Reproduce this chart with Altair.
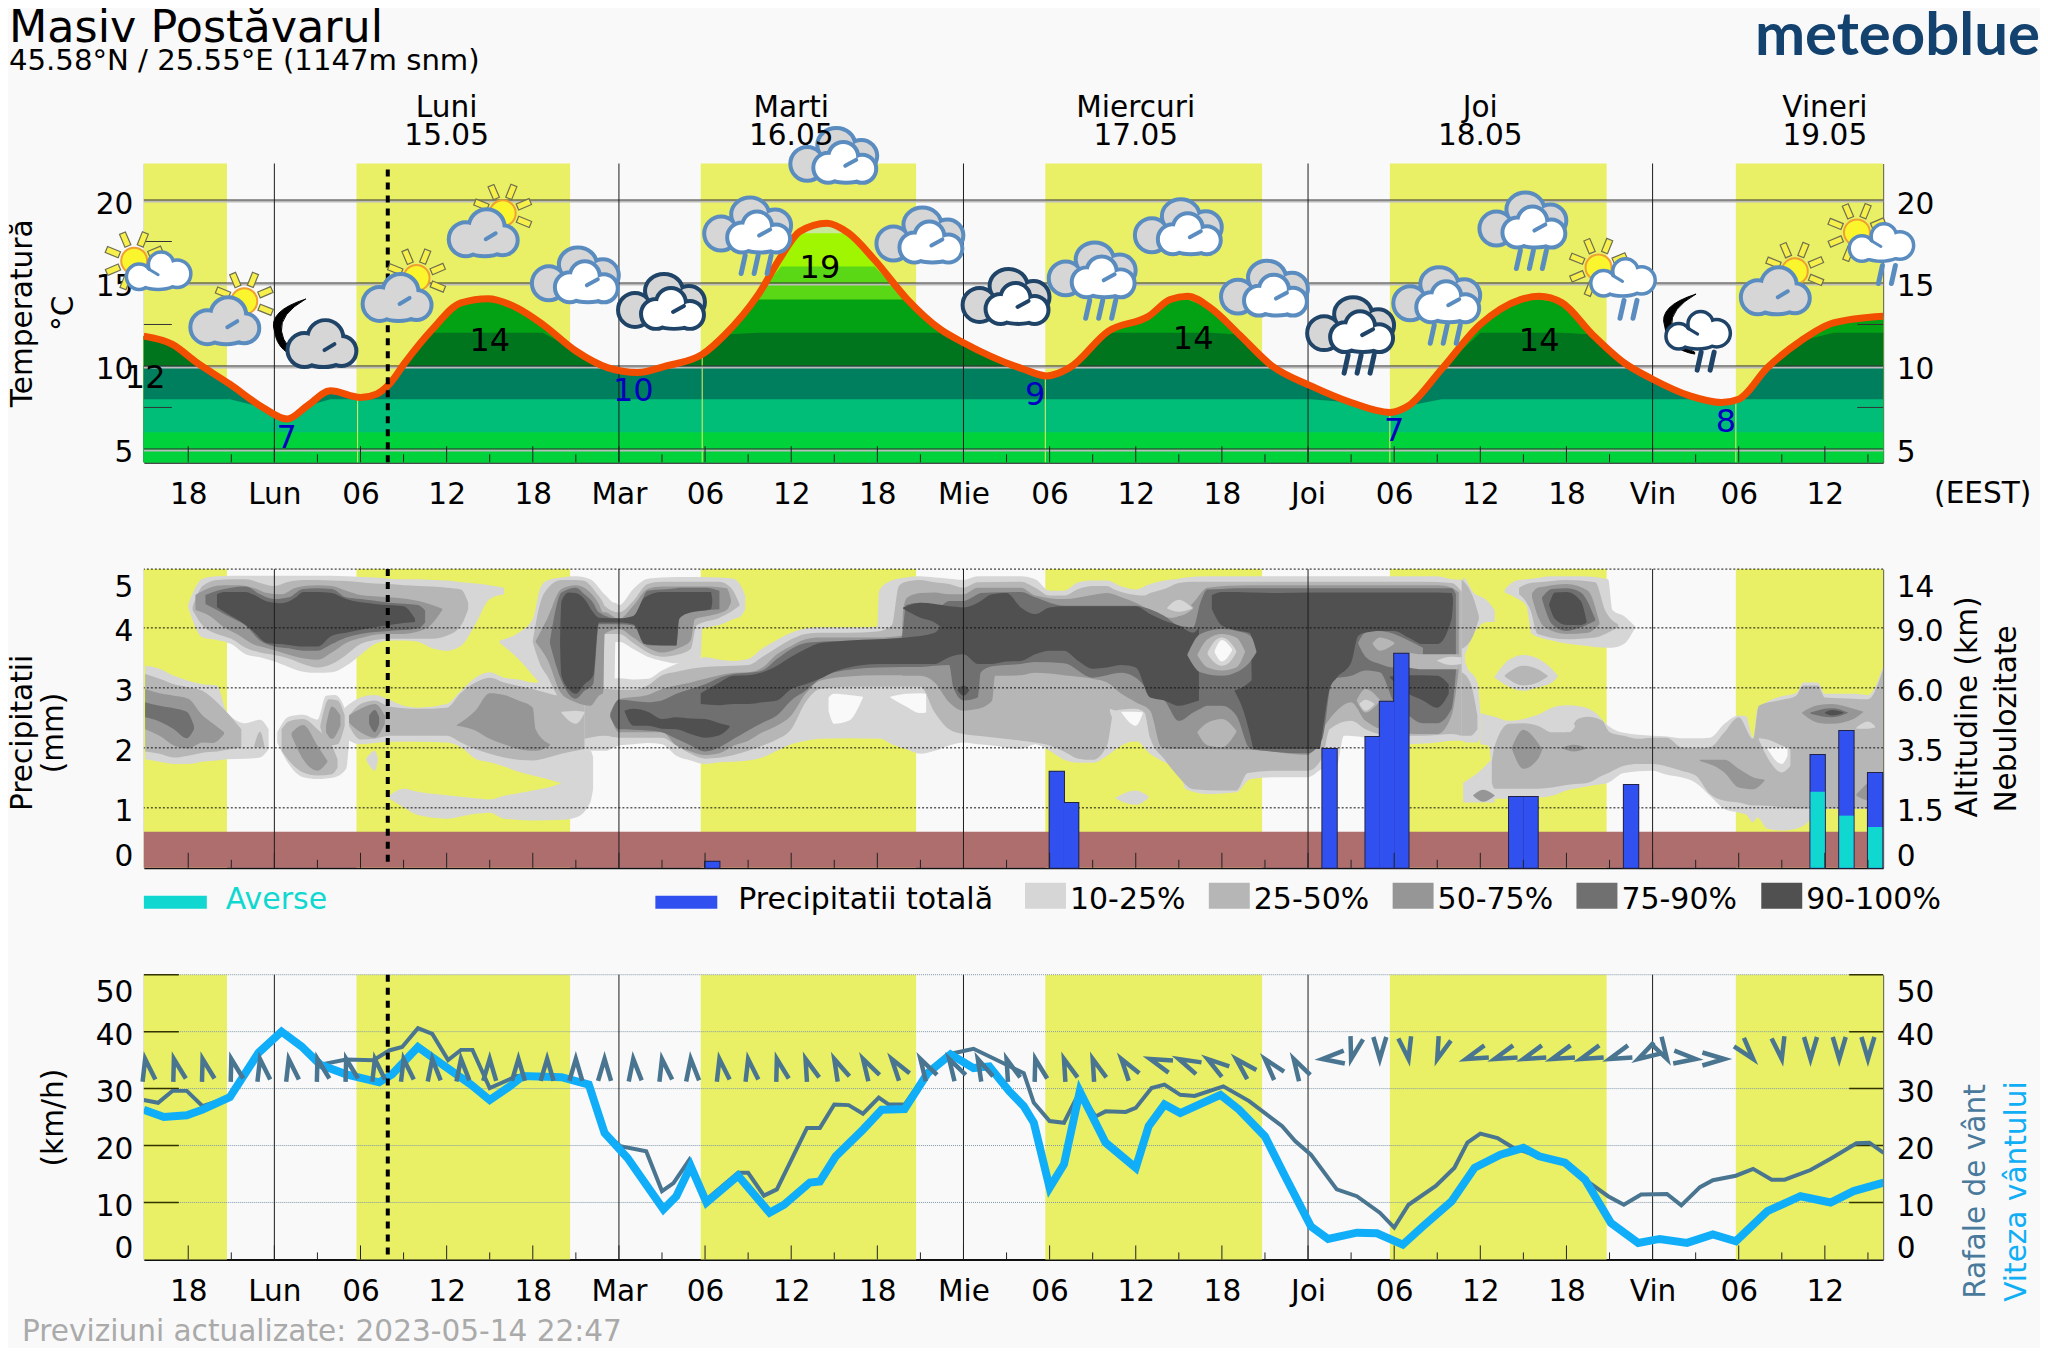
import math
import altair as alt
import pandas as pd

# ---------- time axis (hours since Monday 00:00) ----------
X_DOMAIN = [-9.09, 112.06]
DAY_LINES = [0, 24, 48, 72, 96]
MAJOR_TICKS = list(range(-6, 112, 6))
MINOR_TICKS = list(range(-3, 112, 6))
DAYLIGHT_START = [-9.09, 5.72, 29.7, 53.7, 77.7, 101.8]
DAYLIGHT_END = [-3.3, 20.6, 44.7, 68.8, 92.8, 112.06]
NOW_HOUR = 7.9
DAY_NAMES = ["Luni", "Marti", "Miercuri", "Joi", "Vineri"]
DAY_DATES = ["15.05", "16.05", "17.05", "18.05", "19.05"]
DAY_CENTRES = [12, 36, 60, 84, 108]

# ---------- temperature ----------
TEMP_H = [-9.1, -7.1, -5.4, -3.1, -0.8, 0.9, 2.3, 3.9, 6, 7.1, 8, 9.1, 11, 13, 14.9, 16.9, 18.7, 21, 23.2, 25.3, 27.3,
          29.8, 31.4, 33.7, 35.3, 36.6, 38.5, 40, 41.8, 44.1, 46.4, 48, 52.2, 53.8, 55.4, 58.1, 60.9, 62.4, 63.6, 65.2,
          67.2, 69.5, 72.2, 75, 77.7, 79, 81.3, 84, 86.8, 88.1, 89.7, 91.8, 94, 96, 98.6, 100.8, 102, 104, 106.3,
          108.6, 112.06]
TEMP_V = [11.8, 11.3, 10.2, 8.9, 7.5, 6.8, 7.6, 8.5, 8.1, 8.3, 8.9, 10.2, 12.2, 13.8, 14.05, 13.5, 12.5, 10.9, 9.9, 9.6,
          10, 10.7, 11.9, 14.3, 16.6, 18.1, 18.6, 18, 16.4, 14, 12.2, 11.4, 9.8, 9.4, 9.9, 12.1, 13, 14, 14.2, 13.5,
          11.9, 10, 8.8, 7.8, 7.2, 7.6, 9.8, 12.5, 14, 14.2, 13.8, 11.9, 10.2, 9.2, 8.2, 7.8, 8, 9.9, 11.5, 12.6, 13]
BAND_TOPS = [20, 18, 16, 14, 12, 10, 8, 6]
BAND_COLS = ["#C9E89B", "#9FF600", "#5AD815", "#03A214", "#00751E", "#007F5E", "#00BE78", "#00D23C"]
SUNRISE_H = [5.8, 29.8, 53.7, 77.7, 101.8]
SUNRISE_T = [8.1, 10.7, 9.4, 7.2, 7.9]
TEMP_LABEL_H = [-9, 15, 38, 64, 88.1]
TEMP_LABEL_Y = [8.67, 10.9, 15.3, 11, 10.9]
TEMP_LABEL_T = ["12", "14", "19", "14", "14"]
MIN_LABEL_H = [0.86, 25, 53, 78, 101.1]
MIN_LABEL_Y = [5.06, 7.9, 7.65, 5.5, 6]
MIN_LABEL_T = ["7", "10", "9", "7", "8"]

# ---------- weather symbols: anchor hour and level on the temperature scale ----------
ICON_CLOUD_BLUE_H = [21, 33, 39, 45, 57, 63, 69, 81, 87]
ICON_CLOUD_BLUE_T = [15.4, 18.4, 22.6, 17.8, 15.7, 18.3, 14.6, 14.2, 18.7]
ICON_CLOUD_DARK_H = [27, 51, 75]
ICON_CLOUD_DARK_T = [13.8, 14.1, 12.4]
ICON_SUN_GRAY_H = [-3, 9, 15, 105]
ICON_SUN_GRAY_T = [13.3, 14.7, 18.6, 15.1]
ICON_SUN_SMALL_H = [-9, 93, 111]
ICON_SUN_SMALL_T = [16.1, 15.7, 17.8]
ICON_MOON_GRAY_H = [3]
ICON_MOON_GRAY_T = [12.1]
ICON_MOON_SMALL_H = [99]
ICON_MOON_SMALL_T = [12.7]
RAIN3_BLUE_H = [33, 57, 81, 87]
RAIN3_BLUE_T = [18.4, 15.7, 14.2, 18.7]
RAIN3_DARK_H = [75]
RAIN3_DARK_T = [12.4]
RAIN2_BLUE_H = [93, 111]
RAIN2_BLUE_T = [15.7, 17.8]
RAIN2_DARK_H = [99]
RAIN2_DARK_T = [12.7]

# ---------- precipitation ----------
PREC_H = [30, 54, 55, 73, 76, 77, 78, 86, 87, 94, 107, 109, 111]
PREC_V = [0.1, 1.6, 1.08, 1.98, 2.18, 2.77, 3.57, 1.18, 1.18, 1.38, 1.88, 2.28, 1.58]
SHOWER_H = [107, 109, 111]
SHOWER_V = [1.27, 0.87, 0.68]

# ---------- cloud cover contours: (hour, lower, upper) on the 0-5 axis ----------
L1 = [
 [(-6,4.34,4.40),(-5,3.84,4.82),(-4,3.80,4.86),(-3,3.73,4.87),(-2,3.56,4.87),(-1,3.51,4.87),(0,3.44,4.87),(2,3.27,4.87),(3,3.25,4.87),(4,3.26,4.87),(5,3.37,4.86),(6,3.55,4.85),(7,3.73,4.84),(8,3.79,4.82),(9,3.79,4.81),(10,3.77,4.81),(11,3.66,4.80),(12,3.62,4.79),(13,3.70,4.76),(14,4.06,4.74),(15,4.48,4.71),(16,4.56,4.67)],
 [(-9,1.81,3.37),(-8,1.77,3.32),(-7,1.73,3.20),(-6,1.73,3.12),(-5,1.77,3.06),(-4,1.79,3.04),(-3.3,1.81,2.59),(-2,1.82,2.41),(-1,1.84,2.47),(-0.4,1.98,2.31)],
 [(0.2,2.09,2.26),(1,1.73,2.52),(2,1.51,2.55),(3,1.48,2.47),(3.6,1.49,2.87),(4.2,1.51,2.88),(5,1.65,2.59),(5.2,2.09,2.20)],
 [(4.9,2.17,2.67),(6,2.06,2.84),(7,2.08,2.88),(8,2.10,2.80),(9,2.10,2.70),(10,2.10,2.67),(12,2.09,2.73),(13,2.01,2.95),(14,1.82,3.17),(15,1.76,3.26),(16,1.69,3.17),(17,1.60,3.14),(18,1.54,3.09),(19,1.48,3.09),(20,1.42,3.09),(21,1.51,3.09),(21.7,1.90,3.09)],
 [(6.4,1.80,1.82),(7,1.62,1.95),(7.2,1.78,1.84)],
 [(8,1.15,1.20),(9,1.01,1.32),(10,0.88,1.27),(12,0.82,1.21),(14,0.90,1.16),(15,0.92,1.14),(16,0.82,1.20),(18,0.79,1.29),(20,0.80,1.42),(21,0.84,1.87),(22,1.09,1.96),(22.2,1.31,1.85)],
 [(15.7,3.75,3.79),(17,3.48,3.92),(18,3.21,4.15),(18.5,3.06,4.65),(19,2.76,4.79),(20,2.76,4.84),(21,2.76,4.86),(22,2.76,4.81),(23,2.87,4.56),(23.7,3.15,4.42),(23.75,3.76,4.42),(24,3.77,4.38),(25,3.65,4.65),(26,3.52,4.82),(27,3.45,4.84),(28,3.41,4.85),(29.7,3.51,4.85),(29.8,3.99,4.85),(31,4.05,4.84),(32,4.15,4.82),(32.5,4.20,4.70),(32.8,4.31,4.54)],
 [(21.6,1.95,2.98),(23,1.95,3.15),(24,2.04,3.16),(25,2.06,3.14),(26,2.08,3.15),(27,2.06,3.29),(28,1.87,3.40),(29,1.79,3.48),(30,1.73,3.51),(31,1.76,3.47),(32,1.77,3.45),(33,1.79,3.48),(34,1.84,3.66),(35,1.95,3.80),(36,2.06,3.92),(37,2.12,3.99),(38,2.15,4.01),(40,2.16,4.01),(42,2.15,4.02),(42.1,2.15,4.59),(42.2,2.15,4.65),(43,2.06,4.79),(44,1.98,4.84),(45,1.90,4.86),(46,1.95,4.84),(47,2.04,4.82),(48,2.09,4.80),(49,2.06,4.86),(50,2.04,4.86),(52,1.98,4.86),(53,2.06,4.81),(54,1.95,4.62),(55,1.80,4.62),(56,1.75,4.76),(57,1.75,4.79),(58,1.87,4.79),(59,2.04,4.69),(60,2.12,4.64),(61,1.90,4.73),(62,1.76,4.79),(63,1.65,4.82),(63.5,1.31,4.84),(65,1.23,4.86),(67,1.26,4.86),(68,1.48,4.86),(70,1.51,4.86),(72,1.51,4.86),(73,1.65,4.86),(74,1.70,4.86),(74.5,2.20,4.86),(76,2.17,4.86),(77,2.04,4.86),(79,2.06,4.86),(81,2.09,4.86),(82,2.12,4.81),(82.7,2.12,4.80),(83,2.09,3.40),(83.8,2.09,3.09),(84,2.15,2.62)],
 [(82.7,3.54,3.60),(82.8,3.54,4.84),(83.5,3.90,4.60),(84.5,4.10,4.45),(85,4.10,4.30)],
 [(82.8,1.09,1.42),(84,1.09,1.62),(85,1.09,1.87)],
 [(84,2.06,2.58),(84.6,2.03,2.54),(85,1.15,2.52),(86,1.15,2.45),(87,1.16,2.48),(88,1.17,2.55),(89,1.20,2.67),(90,1.29,2.71),(91,1.34,2.69),(92,1.38,2.59),(92.9,1.42,2.37),(94,1.58,2.25),(96,1.62,2.20),(97,1.55,2.19),(98,1.51,2.16),(99,1.42,2.16),(100,1.20,2.17),(101,0.98,2.40),(102,0.92,2.54),(102.5,0.89,2.53),(103,0.76,2.17),(103.3,0.84,2.65),(104,0.65,2.77),(105,0.62,2.86),(106,0.65,2.91),(106.5,0.70,3.09),(107.5,0.92,3.09),(108,0.98,2.90),(110,0.98,2.90),(111,0.98,2.88),(112.06,0.98,3.36)],
 [(85,3.17,3.19),(86,3.02,3.47),(87,2.95,3.55),(88,3.01,3.49),(89,3.09,3.31),(89.4,3.19,3.20)],
 [(85.7,4.59,4.64),(86.5,4.50,4.79),(87.2,4.37,4.81),(87.6,3.90,4.82),(89,3.79,4.86),(91,3.71,4.86),(92.9,3.67,4.81),(93.2,3.67,4.30),(94,3.73,4.20),(94.8,4.01,4.02)],
 [(58.6,1.15,1.17),(60,1.05,1.29),(60.9,1.17,1.19)],
]
L2 = [
 [(-5.7,4.30,4.35),(-5,4.04,4.70),(-4,3.90,4.80),(-3,3.82,4.81),(-2,3.67,4.81),(-1,3.59,4.75),(0,3.55,4.70),(1,3.49,4.77),(2,3.40,4.80),(3,3.34,4.80),(4,3.40,4.79),(5,3.55,4.78),(6,3.73,4.76),(7,3.80,4.74),(8,3.82,4.73),(9,3.82,4.71),(10,3.82,4.70),(11,3.82,4.69),(12,3.87,4.67),(13,4.04,4.64),(13.5,4.31,4.42)],
 [(-9,1.94,3.23),(-8,1.90,3.15),(-7,1.84,3.06),(-6,1.87,3.01),(-5,1.92,2.95),(-4,1.94,2.76),(-3,1.98,2.51),(-2.3,2.01,2.31)],
 [(-1.4,2.01,2.04),(-1,2.01,2.27),(-0.7,2.01,2.04)],
 [(0.5,1.95,2.31),(1,1.79,2.44),(2,1.59,2.48),(3,1.54,2.31),(4,1.56,2.04),(4.4,1.67,1.81)],
 [(3.2,2.34,2.37),(3.8,2.04,2.81),(4.4,2.06,2.79),(4.9,2.37,2.54)],
 [(5.2,2.37,2.54),(6,2.14,2.73),(7,2.15,2.79),(8,2.20,2.69),(10,2.20,2.65),(12,2.20,2.67),(13,2.09,2.92),(14,1.98,3.09),(15,1.90,3.17),(16,1.84,3.09),(18,1.79,2.98),(20,1.90,2.87),(21.6,1.98,2.98)],
 [(18,3.76,3.78),(18.5,3.40,4.40),(19,3.20,4.65),(20,2.80,4.80),(21,2.76,4.80),(21.5,2.76,4.79),(22.5,2.76,4.56),(22.9,2.76,4.42),(23,3.90,4.37),(24,3.90,4.26),(25,3.75,4.45),(26,3.59,4.73),(27,3.52,4.77),(28,3.55,4.77),(29,3.65,4.77),(29.4,4.04,4.77),(31,4.17,4.77),(31.8,4.27,4.67),(32.4,4.37,4.40)],
 [(21.6,2.15,2.98),(23,2.20,2.98),(24,2.17,2.97),(25,2.17,2.97),(26,2.17,3.04),(27,2.17,3.21),(28,2.04,3.27),(29,1.90,3.32),(30,1.82,3.35),(32,1.88,3.37),(33,1.95,3.38),(34,2.04,3.52),(35,2.14,3.67),(36,2.31,3.81),(37,2.76,3.90),(38,2.98,3.92),(40,3.02,3.92),(42,3.02,3.94),(43,3.02,4.04),(43.5,3.02,4.70),(44,3.02,4.77),(45,3.02,4.80),(46,2.59,4.76),(47,2.31,4.73),(48,2.23,4.67),(49,2.20,4.76),(52,2.12,4.77),(53,2.09,4.67),(54,2.04,4.54),(55,1.94,4.54),(56,1.82,4.65),(57,1.80,4.70),(58,2.04,4.70),(58.5,2.62,4.64),(60,2.65,4.55),(60.6,2.59,4.54),(61,2.17,4.58),(62,1.81,4.65),(63,1.51,4.75),(64,1.31,4.77),(66,1.29,4.77),(67,1.29,4.77),(67.8,1.58,4.77),(70,1.62,4.77),(72,1.62,4.77),(73,1.84,4.77),(73.5,2.31,4.77),(75,2.45,4.77),(76,2.31,4.77),(78,2.20,4.77),(80,2.20,4.77),(82,2.23,4.75),(82.7,2.20,4.60)],
 [(82.7,2.20,3.26),(83.3,2.20,3.09),(83.8,2.31,2.54)],
 [(82.7,3.65,4.81),(83.5,3.87,4.51),(83.9,4.15,4.20)],
 [(84.8,1.42,1.76),(85,1.32,2.03),(86,1.32,2.40),(87,1.32,2.41),(88,1.32,2.37),(89,1.34,2.26),(90,1.38,2.26),(90.8,1.40,2.48),(91.5,1.42,2.52),(92.5,1.54,2.45),(93,1.59,2.26),(94,1.70,2.20),(95,1.73,2.15),(96,1.73,2.17),(97,1.69,2.17),(98,1.62,2.01),(99,1.54,1.99),(100,1.23,2.01),(101,1.12,2.26),(102,1.09,2.51),(103,1.04,2.15),(103.4,1.04,2.70),(105,1.01,2.80),(106,0.99,2.87),(106.5,0.99,3.04),(107.5,0.99,3.04),(108,0.99,2.84),(110,0.99,2.82),(111,0.99,2.81),(112.06,0.99,3.31)],
 [(85.7,3.19,3.21),(87,3.04,3.37),(88,3.09,3.31),(88.7,3.19,3.20)],
 [(86.7,4.56,4.67),(87.5,4.29,4.75),(88,3.90,4.76),(90,3.81,4.80),(92,3.84,4.76),(92.7,3.90,4.29),(93.6,4.01,4.06)],
]
L3 = [
 [(-5.5,4.30,4.55),(-4.5,4.20,4.67),(-3.5,4.01,4.71),(-2.5,3.88,4.71),(-1.5,3.73,4.67),(-0.5,3.66,4.58),(0.5,3.59,4.56),(1.5,3.52,4.67),(3,3.47,4.71),(4,3.59,4.70),(5,3.75,4.62),(6,3.83,4.55),(7.5,3.90,4.52),(9,3.90,4.49),(10.5,3.98,4.42),(11.7,4.30,4.32)],
 [(-9,2.31,2.98),(-8,2.20,2.91),(-7,2.04,2.87),(-6,1.99,2.82),(-5,2.09,2.54),(-4.3,2.08,2.41),(-3.5,2.23,2.26)],
 [(1.2,2.20,2.25),(2,1.81,2.38),(3,1.62,2.04),(3.7,1.77,1.78)],
 [(3.6,2.26,2.37),(4,2.15,2.69),(4.6,2.37,2.54)],
 [(5.2,2.42,2.54),(6,2.26,2.65),(7,2.17,2.73),(7.7,2.40,2.54)],
 [(12.7,2.37,2.38),(14,2.29,2.62),(15,2.15,2.91),(16,2.06,2.88),(17,1.98,2.79),(18,1.95,2.67),(18.2,1.95,2.31),(19.2,2.04,2.06)],
 [(18.2,3.76,3.78),(19,3.48,4.15),(20,2.90,4.65),(21,2.76,4.71),(22,2.70,4.59),(22.6,2.87,4.40),(22.9,2.92,4.26),(23,3.90,4.26),(24,3.98,4.15),(25,3.84,4.37),(26,3.67,4.65),(27,3.59,4.69),(28,3.65,4.69),(29,3.79,4.69),(29.3,4.15,4.69),(30,4.19,4.69),(31.5,4.30,4.66),(31.8,4.42,4.48)],
 [(23.4,2.54,2.59),(24,2.26,2.81),(26,2.26,2.88),(27,2.26,2.98),(28,2.04,3.04),(29,1.94,3.09),(30,1.88,3.15),(31,1.91,3.21),(32,2.04,3.25),(33,2.12,3.26),(34,2.26,3.34),(35,2.37,3.56),(36,2.54,3.70),(37,2.90,3.81),(38,3.12,3.84),(40,3.19,3.84),(42,3.21,3.84),(43.7,3.21,3.87),(43.8,3.20,4.31),(44.1,3.20,4.51),(45,3.20,4.58),(46,3.09,4.59),(47,2.76,4.56),(48,2.62,4.56),(49,2.65,4.67),(50,2.79,4.67),(50.2,3.20,4.67),(52,3.21,4.67),(53,3.25,4.54),(55,3.21,4.48),(57,3.15,4.55),(58,3.09,4.58),(59,2.90,4.51),(60,2.76,4.42),(61,2.62,4.29),(61.8,2.01,4.20),(62.5,1.98,4.17),(63,1.98,4.20),(64,1.98,4.42),(65,1.98,4.67),(68,1.97,4.71),(72,1.88,4.71),(73,2.31,4.71),(74,2.62,4.71),(75,2.76,4.71),(76,2.45,4.71),(78,2.26,4.71),(80,2.23,4.71),(81,2.23,4.71),(82,2.54,4.67),(82.5,3.31,4.59)],
 [(83.5,1.20,1.21),(84.2,1.10,1.30),(85,1.20,1.21)],
 [(86.2,1.98,2.01),(87,1.65,2.30),(88,1.81,2.09),(88.3,1.96,1.98)],
 [(89.7,1.99,2.00),(90.5,1.94,2.05),(91.4,1.99,2.00)],
 [(99.3,1.78,1.80),(101,1.59,1.80),(102,1.34,1.65),(103,1.31,1.51),(103.8,1.45,1.47)],
 [(106.4,2.58,2.59),(107.5,2.42,2.71),(108.5,2.40,2.73),(110,2.48,2.65),(110.7,2.60,2.60)],
 [(110.2,1.20,1.23),(111,1.12,1.42),(112.06,1.10,1.60)],
 [(87.6,4.51,4.58),(88,4.20,4.67),(88.5,4.01,4.69),(90,3.90,4.73),(91.5,3.92,4.62),(92.3,4.06,4.09)],
]
L4 = [
 [(-4.8,4.40,4.55),(-4,4.30,4.62),(-3,4.17,4.67),(-2,4.04,4.69),(-1,3.79,4.56),(0,3.69,4.48),(1,3.66,4.51),(2,3.62,4.65),(3,3.62,4.66),(4,3.73,4.65),(5,3.84,4.51),(6,3.90,4.48),(8,3.95,4.42),(10,3.99,4.38),(10.5,4.09,4.29)],
 [(-9,2.51,2.76),(-8,2.44,2.70),(-7,2.31,2.66),(-6.1,2.16,2.60),(-5.6,2.31,2.37)],
 [(6.6,2.40,2.54),(7,2.26,2.63),(7.3,2.40,2.51)],
 [(19.2,3.73,3.79),(20,3.12,4.59),(21,2.82,4.67),(21.6,2.95,4.56),(22.2,3.06,4.42),(22.6,4.06,4.26),(24,4.06,4.15),(25,4.04,4.15),(26,3.71,4.62),(28,3.70,4.66),(28.2,4.20,4.67),(30,4.29,4.67),(31,4.31,4.62)],
 [(23.4,2.51,2.56),(24,2.31,2.80),(26,2.29,2.76),(27,2.26,2.79),(28,2.15,2.90),(29,2.04,2.98),(30,1.94,3.06),(31,2.01,3.17),(32,2.15,3.23),(33,2.29,3.25),(34,2.42,3.29),(35,2.54,3.48),(36,2.79,3.65),(37,2.95,3.75),(38,3.15,3.77),(39,3.26,3.78),(42,3.34,3.80),(43.7,3.35,3.84),(44,3.35,4.38),(45,3.35,4.42),(46,3.37,4.29),(47,3.38,4.45),(47.3,3.00,4.45),(48,2.79,4.45),(49,2.84,4.56),(49.2,3.26,4.58),(50,3.36,4.59),(52,3.40,4.60),(53,3.43,4.51),(55,3.41,4.37),(57,3.17,4.37),(59,3.25,4.37),(60,3.17,4.37),(61,2.94,4.31),(62,2.79,4.20),(63,2.45,4.04),(64,2.59,4.01),(64.5,2.65,4.42),(65,2.70,4.64),(66,2.70,4.65),(67,2.54,4.66),(68,1.98,4.66),(72,1.91,4.66),(73,2.15,4.66),(73.7,3.15,4.66),(75,3.20,4.66),(76,3.29,4.66),(77,3.26,4.66),(78,2.76,4.66),(79,2.54,4.66),(80,2.41,4.66),(81,2.41,4.66),(82,2.65,4.66),(82.3,3.26,4.56)],
 [(88.3,4.48,4.51),(89,4.06,4.65),(90,3.95,4.66),(91,4.01,4.59),(92,4.12,4.15)],
 [(107,2.57,2.59),(108.5,2.51,2.66),(109.6,2.58,2.59)],
]
L5 = [
 [(-4,4.35,4.56),(-3.5,4.27,4.60),(-2,4.05,4.60),(-1.5,3.95,4.56),(-0.5,3.75,4.44),(0.5,3.73,4.41),(1.5,3.70,4.51),(2,3.69,4.60),(3,3.69,4.60),(4,3.87,4.58),(5,3.92,4.48),(7,4.01,4.40),(9,4.08,4.36),(9.8,4.10,4.15)],
 [(19.9,3.73,3.79),(20,3.20,4.45),(20.5,2.98,4.59),(21,2.90,4.58),(21.6,3.06,4.48),(22.2,3.20,4.26),(22.6,4.09,4.17),(24,4.09,4.16),(25,4.06,4.20),(25.8,3.73,4.51),(27,3.71,4.60),(28,3.71,4.60),(28.2,4.15,4.60),(29,4.26,4.60),(30.4,4.31,4.60),(30.5,4.42,4.48)],
 [(24.4,2.60,2.62),(25,2.37,2.65),(26,2.37,2.60),(27,2.32,2.48),(28,2.31,2.51),(29,2.23,2.49),(30,2.17,2.48),(31,2.21,2.41),(31.7,2.34,2.37)],
 [(29.7,2.73,2.91),(31,2.71,3.09),(32,2.73,3.20),(33,2.73,3.21),(34,2.76,3.26),(35,2.79,3.37),(36,2.98,3.52),(37,3.06,3.65),(38,3.15,3.75),(39,3.27,3.77),(40,3.34,3.79),(42,3.40,3.81),(44,3.40,3.84),(46,3.40,3.92),(46.5,3.45,4.07),(47,3.51,4.36),(48,3.56,4.34),(49,3.40,4.42),(50,3.40,4.56),(51,3.44,4.58),(52,3.45,4.34),(53,3.56,4.23),(54,3.62,4.34),(55,3.62,4.36),(56,3.45,4.36),(57,3.32,4.36),(58,3.34,4.36),(59,3.38,4.36),(60,3.34,4.36),(61,2.84,4.23),(62,2.79,4.12),(63,2.70,4.04),(64,2.76,3.92),(64.4,2.79,4.01)],
 [(43.8,4.32,4.34),(45,4.17,4.42),(46,4.09,4.40),(47,3.87,4.36)],
 [(47.6,2.95,2.97),(48,2.87,3.04),(48.4,2.95,2.97)],
 [(65.3,4.31,4.55),(66,4.04,4.60),(67,3.96,4.60),(68,3.91,4.59),(68.2,1.98,4.59),(70,1.98,4.58),(72,1.98,4.59),(72.8,1.98,4.59),(73,2.26,4.59),(73.5,2.98,4.59),(74,3.17,4.59),(75,3.42,4.59),(75.5,3.87,4.59),(76,3.92,4.59),(78,3.95,4.59),(79,3.84,4.59),(80,3.73,4.59),(81,3.73,4.59),(82,4.15,4.58),(82.1,4.42,4.48)],
 [(66.9,2.94,2.96),(67.5,2.62,3.02),(68.2,1.98,3.15)],
 [(77.7,3.17,3.19),(79,2.90,3.21),(80,2.79,3.21),(81,2.67,3.20),(81.8,2.90,3.06)],
 [(88.8,4.37,4.40),(89.2,4.15,4.59),(90,4.05,4.60),(91,4.05,4.45),(91.4,4.09,4.12)],
 [(108,2.58,2.59),(108.5,2.54,2.63),(109.3,2.58,2.59)],
]
# lighter patches seen inside the darker cloud
PATCH3 = [
 [(63.6,3.54,3.56),(64.5,3.26,3.90),(66,3.20,3.98),(67,3.26,3.95),(68,3.45,3.87),(68.4,3.59,3.62)],
 [(75.5,3.73,3.76),(76,3.52,3.92),(77,3.40,3.95),(78,3.34,3.90),(79,3.37,3.79),(80,3.37,3.67)],
]
PATCH2 = [
 [(62,4.32,4.34),(63,4.20,4.51),(64,4.32,4.34)],
 [(64.3,3.54,3.56),(65,3.34,3.81),(66,3.29,3.90),(67,3.34,3.84),(67.6,3.59,3.62)],
 [(64.3,2.25,2.27),(65,2.04,2.42),(66,2.01,2.48),(67,2.26,2.29)],
 [(76.5,3.73,3.75),(77,3.62,3.84),(78,3.73,3.76)],
 [(79,3.34,3.59),(80,3.31,3.56),(82.5,3.31,3.56)],
 [(75.4,2.78,2.80),(76,2.59,2.98),(77,2.78,2.80)],
]
PATCH1 = [
 [(62.2,4.32,4.34),(63,4.27,4.47),(63.9,4.32,4.34)],
 [(65,3.56,3.59),(65.5,3.42,3.78),(66,3.37,3.84),(66.5,3.42,3.78),(67,3.59,3.62)],
 [(81,3.45,3.46),(82,3.38,3.52),(82.7,3.40,3.51)],
 [(75.6,2.72,2.74),(76,2.62,2.80),(76.6,2.72,2.74)],
 [(58.2,2.60,2.65),(59,2.20,2.60),(60,2.10,2.62),(60.6,2.30,2.58)],
 [(20,2.58,2.60),(21,2.40,2.62),(21.6,2.58,2.60)],
 [(103.4,2.14,2.16),(104,1.84,2.14),(105,1.59,2.04),(105.6,1.70,1.98)],
 [(89.7,2.35,2.37),(90.2,2.26,2.45),(90.6,2.35,2.37)],
 [(110.2,2.32,2.34),(111,2.32,2.44),(111.5,2.34,2.36)],
]
PATCH0 = [
 [(65.5,3.59,3.62),(66,3.44,3.80),(66.7,3.62,3.65)],
 [(38.6,2.62,2.84),(39,2.40,2.90),(40,2.45,2.88),(41,2.84,2.85)],
 [(42.9,2.84,2.85),(44,2.69,2.90),(45,2.58,2.91),(45.4,2.59,2.90)],
 [(59,2.59,2.60),(60,2.37,2.60),(60.5,2.58,2.59)],
 [(104,1.98,1.99),(105,1.73,2.01),(105.4,1.87,2.01)],
]
CLOUD_COLS = ["#D6D6D6", "#B6B6B6", "#969696", "#707070", "#505050"]
CLOUD_LEGEND = ["10-25%", "25-50%", "50-75%", "75-90%", "90-100%"]

# ---------- wind ----------
SPEED_H = [-9.1, -7.7, -6.1, -5, -3.1, -1.1, 0.5, 1.9, 3.2, 5, 7.3, 8.2, 10, 11.9, 13.7, 15, 16.4, 17.3, 20, 21.9, 23, 24.6,
           27.1, 28, 29, 30.1, 32.3, 34.5, 35.5, 37.3, 38, 39.1, 41, 42.3, 43.9, 45.5, 47.1, 48.7, 49.8, 51.2, 52.2, 52.9,
           54, 55, 56.1, 57.9, 60, 60.9, 62, 63.1, 65.9, 67.2, 69, 70.4, 72.2, 73.4, 75.4, 76.8, 78.6, 80, 82, 83.6, 85.4,
           87, 88.1, 89.9, 91.3, 93.1, 95, 96.5, 98.4, 100.2, 101.8, 104, 106.3, 108.4, 110, 112.1]
SPEED_V = [26.3, 25, 25.3, 26.3, 28.5, 36.3, 40, 37.4, 34.2, 32.5, 31.1, 32.5, 37.3, 33.9, 30.7, 28, 30.4, 32.2, 32, 30.7,
           22.2, 17.8, 8.8, 11.1, 16.4, 10, 14.7, 8.2, 9.6, 13.5, 13.7, 18.1, 22.8, 26.3, 26.4, 32.7, 36, 33.6, 33.9, 29.5,
           26.9, 24, 12.6, 16.7, 29.5, 20.5, 16.1, 23.4, 27.2, 25.7, 28.9, 26.3, 21.6, 14.6, 5.8, 3.6, 4.7, 4.6, 2.6, 5.8,
           10.2, 16.1, 18.4, 19.6, 18.1, 17, 14, 6.4, 2.9, 3.6, 2.9, 4.4, 3.2, 8.5, 11.1, 10, 12, 13.5]
GUST_H = [-9.1, -8.1, -7.1, -6.1, -5, -3.1, -1.1, 0.5, 1.9, 3.2, 5, 6.9, 8, 8.9, 10, 11, 12.1, 13, 13.8, 15, 16.9, 20, 21.9,
          23, 24.1, 25.9, 27, 27.8, 28.9, 30.1, 32.3, 33, 34.1, 35, 37.1, 38, 39, 40, 41, 42.1, 42.8, 43.9, 45.5, 46.9,
          48.7, 50.5, 52.2, 52.9, 54, 55, 56.1, 57.2, 57.9, 59.3, 60, 61.1, 62, 63.1, 64.1, 66.1, 67.9, 70.2, 71.1, 72.2,
          74, 75.4, 77, 78, 79, 80.9, 82.2, 83.1, 84, 85.2, 86.3, 88.1, 89.9, 91.3, 92.9, 94, 95.2, 97, 98, 99.3, 100.2,
          101.8, 103, 104.3, 105.2, 107, 108.4, 110.2, 111.1, 112.1]
GUST_V = [28, 27.5, 29.6, 29.6, 26.9, 28.5, 36.3, 40, 37.4, 34.2, 35.1, 35, 36.7, 37.3, 40.6, 39.6, 35, 36.8, 36.8, 30.1,
          32.2, 32, 30.7, 22.2, 19.9, 19, 12, 13.4, 17.5, 10.5, 15.2, 15.2, 11.2, 12.3, 23.1, 23.1, 27.2, 27.1, 25.6, 28.4,
          27.2, 27.2, 33, 36, 37, 34.8, 32.7, 27.5, 24.3, 24, 29.5, 25.1, 26, 25.9, 26.6, 30.1, 30.7, 28.9, 28.7, 30.4, 27.8,
          23.4, 20.8, 18.4, 12.3, 11.1, 8.2, 5.6, 9.6, 12.9, 16.1, 20.5, 22.1, 21.3, 19.6, 18.1, 17, 14, 11.1, 9.6, 11.4,
          11.5, 9.5, 12.7, 13.9, 14.7, 15.9, 14, 14, 15.7, 17.7, 20.4, 20.5, 18.7]
ARROW_H = list(range(-9, 112, 2))
ARROW_DIR = [-10, -15, -15, -15, -10, -10, -15, -15, -10, -10, -5, -5, 0, 0, 0, 0, 0, -5, -10, -5, -10, -10, -15, -20, -25,
             -30, -35, -30, -30, -25, -20, -15, -20, -20, -35, -70, -65, -55, -45, -40, -30, -95, 195, 180, 170, 200,
             250, 250, 250, 250, 250, 250, 240, 150, 95, 90, 140, 170, 180, 180, 180]
ARROW_LEVEL = 35.2

FONT = "DejaVu Sans"
H1, H2, H3 = 299, 299, 285
BG = "#F9F9F9"
YEL = "#E9F066"
DOT = "#111111"
W = 1741
XS = alt.Scale(domain=X_DOMAIN, nice=False, zero=False)
YS1 = alt.Scale(domain=[4.2, 22.2], nice=False, zero=False)
YS2 = alt.Scale(domain=[0, 4.98], nice=False, zero=False)
YS3 = alt.Scale(domain=[0, 50], nice=False, zero=False)
xq = alt.X("h:Q", scale=XS, axis=None)
LABEL_EXPR = ("datum.value%24==0?['Lun','Mar','Mie','Joi','Vin'][datum.value/24]:"
              "((datum.value%24+24)%24==6?'06':((datum.value%24+24)%24==12?'12':'18'))")
TICK_FS = 29.6
AX_FIG = dict(labelFont=FONT, labelFontSize=TICK_FS, labelColor="#000000", ticks=False, title=None, grid=False)


def df(**kw):
    return pd.DataFrame(kw)


def text(s, px, py, size=TICK_FS, color="#000000", angle=0, align="left", font=FONT, weight="normal", ox=143, oy=162):
    return alt.Chart(df(a=[0])).mark_text(text=s, fontSize=size, color=color, angle=angle, align=align, font=font,
                                          fontWeight=weight, baseline="alphabetic").encode(
        x=alt.value(px - ox), y=alt.value(py - oy))


def vrect(height, color=YEL):
    return alt.Chart(df(h=DAYLIGHT_START, h2=DAYLIGHT_END)).mark_rect(color=color).encode(
        x=xq, x2="h2:Q", y=alt.value(0), y2=alt.value(height))


def ticks(height, major, minor):
    return [alt.Chart(df(h=MAJOR_TICKS)).mark_rule(color="#222222", strokeWidth=1).encode(
                x=xq, y=alt.value(height - major), y2=alt.value(height)),
            alt.Chart(df(h=MINOR_TICKS)).mark_rule(color="#222222", strokeWidth=1).encode(
                x=xq, y=alt.value(height - minor), y2=alt.value(height))]


def daylines(height):
    return alt.Chart(df(h=DAY_LINES)).mark_rule(color="#1c1c1c", strokeWidth=1).encode(
        x=xq, y=alt.value(0), y2=alt.value(height))


def nowline(height, top=0):
    return alt.Chart(df(h=[NOW_HOUR])).mark_rule(color="#000000", strokeWidth=4, strokeDash=[7, 6]).encode(
        x=xq, y=alt.value(top), y2=alt.value(height))


def axes(scale, values_l, values_r, fmt_l=None, fmt_r=None, flush=False):
    out = []
    for orient, vals, fmt, pad in (("left", values_l, fmt_l, 11), ("right", values_r, fmt_r, 13)):
        kw = dict(AX_FIG)
        if fmt:
            kw["labelExpr"] = fmt
        if flush:
            kw["labelFlush"] = True
        out.append(alt.Chart(df(h=[0], v=[vals[0]])).mark_rule(opacity=0).encode(
            x=xq,
            y=alt.Y("v:Q", scale=scale, axis=alt.Axis(orient=orient, values=vals, labelPadding=pad, domain=True,
                                                      domainColor="#444444", domainWidth=1, labelOffset=4, **kw))))
    return out


def xaxis():
    return alt.Chart(df(h=MAJOR_TICKS)).mark_tick(opacity=0).encode(
        x=alt.X("h:Q", scale=XS, axis=alt.Axis(orient="bottom", values=MAJOR_TICKS, labelExpr=LABEL_EXPR, labelFont=FONT,
                                               labelFontSize=TICK_FS, labelColor="#000000", ticks=False, title=None,
                                               grid=False, domain=True, domainColor="#111111", domainWidth=2,
                                               labelPadding=18, labelOverlap=False, labelBound=False, labelFlush=False)))


# ---- symbol drawing ----
def f(v):
    return f"{v / 50:.3f}"


def ell(cx, cy, rx, ry=None):
    ry = rx if ry is None else ry
    return (f"M{f(cx - rx)},{f(cy)}A{f(rx)},{f(ry)} 0 1 0 {f(cx + rx)},{f(cy)}"
            f"A{f(rx)},{f(ry)} 0 1 0 {f(cx - rx)},{f(cy)}Z")


def puffs(items, ox=0, oy=0):
    return "".join(ell(c[0] + ox, c[1] + oy, *c[2:]) for c in items)


def line(a, b, ox=0, oy=0):
    return f"M{f(a[0] + ox)},{f(a[1] + oy)}L{f(b[0] + ox)},{f(b[1] + oy)}"


def rays(cx, cy, r0=16, r1=30, w=3.2):
    out = ""
    for i in range(8):
        t = math.radians(22 + i * 45)
        ux, uy = math.cos(t), math.sin(t)
        nx, ny = -uy, ux
        pts = [(cx + ux * r0 + nx * w, cy + uy * r0 + ny * w), (cx + ux * r1 + nx * w, cy + uy * r1 + ny * w),
               (cx + ux * r1 - nx * w, cy + uy * r1 - ny * w), (cx + ux * r0 - nx * w, cy + uy * r0 - ny * w)]
        out += "M" + "L".join(f"{f(p[0])},{f(p[1])}" for p in pts) + "Z"
    return out


def moon(ox, oy):
    p = [(-2, -37), (-40, -25), (-33, -5), (-30, 18), (-3, 23), (-3, 21), (-24, 12), (-26, -5), (-28, -22), (-2, -37)]
    q = [f"{f(a + ox)},{f(b + oy)}" for a, b in p]
    return f"M{q[0]}Q{q[1]} {q[2]}Q{q[3]} {q[4]}L{q[5]}Q{q[6]} {q[7]}Q{q[8]} {q[9]}Z"


SIZE = 10000


def gl(h, t, path, fill="transparent", stroke="transparent", sw=0):
    return alt.Chart(df(h=h, t=t)).mark_point(shape=path, size=SIZE, filled=True, fill=fill, stroke=stroke,
                                              strokeWidth=sw, opacity=1, strokeCap="round").encode(
        x=xq, y=alt.Y("t:Q", scale=YS1, axis=None))


def blob(h, t, path, fill, stroke, sw):
    return [gl(h, t, path, fill=stroke, stroke=stroke, sw=sw), gl(h, t, path, fill=fill)]


BLUE_OUT, DARK_OUT, GRAYF, WHITEF = "#5A8CC0", "#1F4468", "#D6D6D6", "#FFFFFF"
BACK = [(-27, 7, 15), (2, -12, 17, 15), (27, -1, 14), (2, 8, 24, 14)]
FRONT = [(-6, 11, 13), (9, 0, 13), (28, 12, 12), (12, 14, 22, 10)]
HOOK = line((11, 9), (22, 3))
MID = [(-18, 6, 15), (3, -6, 16), (19, 7, 13), (1, 10, 22, 11)]
SMALL = [(-19, 5, 11), (3, -7, 11), (19, 2, 12), (0, 7, 20, 9)]


def cloud3(h, t, outline):
    return (blob(h, t, puffs(BACK), GRAYF, outline, 8) + blob(h, t, puffs(FRONT), WHITEF, outline, 8) +
            [gl(h, t, HOOK, stroke=outline, sw=4)])


def sun(h, t, ox, oy):
    return [gl(h, t, rays(ox, oy), fill="#F7F04C", stroke="#6E6E50", sw=1.2),
            gl(h, t, ell(ox, oy, 13), fill="#FBF52E", stroke="#F0A030", sw=2)]


def midcloud(h, t, ox, oy, outline):
    return (blob(h, t, puffs(MID, ox, oy), GRAYF, outline, 8) +
            [gl(h, t, line((2, 6), (12, 0), ox, oy), stroke=outline, sw=4)])


def smallcloud(h, t, ox, oy, outline):
    return (blob(h, t, puffs(SMALL, ox, oy), WHITEF, outline, 7) +
            [gl(h, t, line((-10, -3), (0, 3), ox, oy), stroke=outline, sw=3)])


def rain(h, t, n, color, ox, oy):
    path = "".join(line((2 + i * 13 - 13 * (n - 1) / 2, -9), (-2 + i * 13 - 13 * (n - 1) / 2, 9), ox, oy) for i in range(n))
    return [gl(h, t, path, stroke=color, sw=5)]


def glyphs():
    out = []
    out += rain(RAIN3_BLUE_H, RAIN3_BLUE_T, 3, BLUE_OUT, 8, 38)
    out += rain(RAIN3_DARK_H, RAIN3_DARK_T, 3, DARK_OUT, 8, 38)
    out += cloud3(ICON_CLOUD_BLUE_H, ICON_CLOUD_BLUE_T, BLUE_OUT)
    out += cloud3(ICON_CLOUD_DARK_H, ICON_CLOUD_DARK_T, DARK_OUT)
    out += sun(ICON_SUN_GRAY_H, ICON_SUN_GRAY_T, 13, -10)
    out += midcloud(ICON_SUN_GRAY_H, ICON_SUN_GRAY_T, -6, 10, BLUE_OUT)
    out += rain(RAIN2_BLUE_H, RAIN2_BLUE_T, 2, BLUE_OUT, 19, 38)
    out += sun(ICON_SUN_SMALL_H, ICON_SUN_SMALL_T, -11, -4)
    out += smallcloud(ICON_SUN_SMALL_H, ICON_SUN_SMALL_T, 13, 7, BLUE_OUT)
    out += [gl(ICON_MOON_GRAY_H, ICON_MOON_GRAY_T, moon(-10, 5), fill="#000000", stroke="#000000", sw=1)]
    out += midcloud(ICON_MOON_GRAY_H, ICON_MOON_GRAY_T, 5, 13, DARK_OUT)
    out += rain(RAIN2_DARK_H, RAIN2_DARK_T, 2, DARK_OUT, 10, 40)
    out += [gl(ICON_MOON_SMALL_H, ICON_MOON_SMALL_T, moon(2, 10), fill="#000000", stroke="#000000", sw=1)]
    out += smallcloud(ICON_MOON_SMALL_H, ICON_MOON_SMALL_T, 2, 10, DARK_OUT)
    return out


# ---- panel 1 ----
temp = df(h=TEMP_H, t=TEMP_V)
yt = alt.Y("t:Q", scale=YS1, axis=None)
p1 = [vrect(H1)]
for top, col in zip(BAND_TOPS, BAND_COLS):
    p1.append(alt.Chart(temp).transform_calculate(c=f"min(datum.t,{top})").mark_area(color=col, opacity=1).encode(
        x=xq, y=alt.Y("c:Q", scale=YS1, axis=None), y2=alt.datum(4.2)))
p1.append(alt.Chart(df(h=SUNRISE_H, t=SUNRISE_T)).mark_rule(color="#E9F066", strokeWidth=1).encode(
    x=xq, y=yt, y2=alt.value(H1)))
GRID1 = [5, 10, 15, 20]
SHORT1 = [7.5, 12.5, 17.5]
p1.append(alt.Chart(df(t=GRID1)).mark_rule(color="#BBBBBB", strokeWidth=2, yOffset=1.5).encode(y=yt))
p1.append(alt.Chart(df(t=GRID1)).mark_rule(color="#333333", strokeWidth=1).encode(y=yt))
p1.append(alt.Chart(df(t=SHORT1)).mark_rule(color="#333333", strokeWidth=1).encode(y=yt, x=alt.value(0), x2=alt.value(28)))
p1.append(alt.Chart(df(t=SHORT1)).mark_rule(color="#333333", strokeWidth=1).encode(y=yt, x=alt.value(W - 26), x2=alt.value(W)))
p1.append(daylines(H1))
p1 += ticks(H1, 16, 8)
p1.append(alt.Chart(temp).mark_line(color="#F24E00", strokeWidth=7, interpolate="monotone").encode(x=xq, y=yt))
p1.append(nowline(H1, 6))
p1 += axes(YS1, GRID1, GRID1)
p1.append(xaxis())
p1 += glyphs()
p1.append(alt.Chart(df(h=TEMP_LABEL_H, t=TEMP_LABEL_Y, s=TEMP_LABEL_T)).mark_text(
    fontSize=32, font=FONT, color="#000000", baseline="alphabetic").encode(x=xq, y=yt, text="s:N"))
p1.append(alt.Chart(df(h=MIN_LABEL_H, t=MIN_LABEL_Y, s=MIN_LABEL_T)).mark_text(
    fontSize=32, font=FONT, color="#0000C0", baseline="alphabetic").encode(x=xq, y=yt, text="s:N"))
for nm, dt, c in zip(DAY_NAMES, DAY_DATES, DAY_CENTRES):
    p1.append(alt.Chart(df(h=[c])).mark_text(text=nm, fontSize=TICK_FS, font=FONT, baseline="alphabetic").encode(x=xq, y=alt.value(115 - 162)))
    p1.append(alt.Chart(df(h=[c])).mark_text(text=dt, fontSize=TICK_FS, font=FONT, baseline="alphabetic").encode(x=xq, y=alt.value(143 - 162)))
p1 += [
    text("Masiv Postăvarul", 8, 40, size=44.5),
    text("45.58°N / 25.55°E (1147m snm)", 8, 68, size=29.2),
    text("meteoblue", 2041, 53, size=60, color="#14426E", align="right", font="Lato", weight="bold"),
    text("Temperatură", 31, 312, angle=270, align="center"),
    text("°C", 72, 312, angle=270, align="center"),
    text("(EEST)", 1935, 502),
    alt.Chart(df(a=[0])).mark_rule(opacity=0).encode(x=alt.value(8 - 143), x2=alt.value(8 - 143 + 1), y=alt.value(8 - 162)),
]
panel1 = alt.layer(*p1).resolve_axis(x="independent", y="independent").properties(width=W, height=H1)


# ---- panel 2 ----
def cloud_layer(blobs, color):
    rows = []
    for i, b in enumerate(blobs):
        for (h, lo, hi) in b:
            rows.append(dict(b=i, h=h, lo=lo, hi=hi))
    return alt.Chart(pd.DataFrame(rows)).mark_area(color=color, opacity=1, interpolate="monotone", clip=True).encode(
        x=xq, y=alt.Y("lo:Q", scale=YS2, axis=None), y2="hi:Q", detail="b:N")


RED_TOP = 0.6
yp = alt.Y("v:Q", scale=YS2, axis=None)
p2 = [vrect(H2)]
p2 += [cloud_layer(L1, CLOUD_COLS[0]), cloud_layer(L2, CLOUD_COLS[1]), cloud_layer(L3, CLOUD_COLS[2]),
       cloud_layer(L4, CLOUD_COLS[3]), cloud_layer(L5, CLOUD_COLS[4]),
       cloud_layer(PATCH3, CLOUD_COLS[2]), cloud_layer(PATCH2, CLOUD_COLS[1]), cloud_layer(PATCH1, CLOUD_COLS[0]),
       cloud_layer(PATCH0, BG)]
p2.append(alt.Chart(df(h=[X_DOMAIN[0]], h2=[X_DOMAIN[1]], v=[RED_TOP])).mark_rect(color="#AF6E6E").encode(
    x=xq, x2="h2:Q", y=yp, y2=alt.datum(0)))
GRID2 = [1, 2, 3, 4, 4.98]
p2.append(alt.Chart(df(v=GRID2)).mark_rule(color=DOT, strokeWidth=1, strokeDash=[2, 2]).encode(y=yp))
p2.append(daylines(H2))
prec = df(h=PREC_H, v=PREC_V)
prec["h2"] = prec["h"] + 1
p2.append(alt.Chart(prec).mark_rect(color="#222244", stroke="#222244", strokeWidth=2).encode(
    x=xq, x2="h2:Q", y=yp, y2=alt.datum(0)))
p2.append(alt.Chart(prec).mark_rect(color="#3050F0").encode(
    x=xq, x2="h2:Q", y=yp, y2=alt.datum(0)))
show = df(h=SHOWER_H, v=SHOWER_V)
show["h2"] = show["h"] + 1
p2.append(alt.Chart(show).mark_rect(color="#10D8D0").encode(x=xq, x2="h2:Q", y=yp, y2=alt.datum(0)))
p2 += ticks(H2, 15, 8)
p2.append(nowline(H2))
p2 += axes(YS2, [0, 1, 2, 3, 4, 4.98], [0, 1, 2, 3, 4, 4.98],
           fmt_l="datum.value>4.9?'5':''+datum.value",
           fmt_r="datum.value>4.9?'14':datum.value==4?'9.0':datum.value==3?'6.0':datum.value==2?'3.5':datum.value==1?'1.5':'0'",
           flush=True)
p2.append(alt.Chart(df(h=MAJOR_TICKS)).mark_tick(opacity=0).encode(
    x=alt.X("h:Q", scale=XS, axis=alt.Axis(orient="bottom", labels=False, ticks=False, title=None, grid=False,
                                           domain=True, domainColor="#111111", domainWidth=2))))
oy2 = 568
t2 = lambda *a, **k: text(*a, oy=oy2, **k)
LEG_X = [1025, 1209, 1393, 1577, 1762]
for lx, col, lab in zip(LEG_X, CLOUD_COLS, CLOUD_LEGEND):
    p2.append(alt.Chart(df(a=[0])).mark_rect(color=col).encode(
        x=alt.value(lx - 143), x2=alt.value(lx - 143 + 41), y=alt.value(882 - oy2), y2=alt.value(908 - oy2)))
    p2.append(t2(lab, lx + 45, 908, size=30))
p2.append(alt.Chart(df(a=[0])).mark_rect(color="#10D8D0").encode(
    x=alt.value(0), x2=alt.value(63), y=alt.value(895 - oy2), y2=alt.value(908 - oy2)))
p2.append(alt.Chart(df(a=[0])).mark_rect(color="#3050F0").encode(
    x=alt.value(655 - 143), x2=alt.value(717 - 143), y=alt.value(895 - oy2), y2=alt.value(908 - oy2)))
p2 += [
    t2("Averse", 225, 908, color="#10D8D0", size=30),
    t2("Precipitatii totală", 738, 908, size=30),
    t2("Precipitatii", 31, 732, angle=270, align="center"),
    t2("(mm)", 62, 732, angle=270, align="center"),
    t2("Altitudine (km)", 1978, 706, angle=270, align="center"),
    t2("Nebulozitate", 2017, 718, angle=270, align="center"),
]
panel2 = alt.layer(*p2).resolve_axis(x="independent", y="independent").properties(width=W, height=H2)

# ---- panel 3 ----
yv = alt.Y("v:Q", scale=YS3, axis=None)
p3 = [vrect(H3)]
GRID3 = [10, 20, 30, 40, 50]
p3.append(alt.Chart(df(v=GRID3)).mark_rule(color="#8098A8", strokeWidth=1, strokeDash=[1, 1]).encode(y=yv))
p3.append(alt.Chart(df(v=GRID3)).mark_rule(color="#333300", strokeWidth=1.5).encode(y=yv, x=alt.value(0), x2=alt.value(35)))
p3.append(alt.Chart(df(v=GRID3)).mark_rule(color="#333300", strokeWidth=1.5).encode(y=yv, x=alt.value(W - 34), x2=alt.value(W)))
p3.append(daylines(H3))
p3 += ticks(H3, 14, 7)
p3.append(alt.Chart(df(h=GUST_H, v=GUST_V)).mark_line(color="#4A7590", strokeWidth=4, clip=True).encode(x=xq, y=yv))
p3.append(alt.Chart(df(h=SPEED_H, v=SPEED_V)).mark_line(color="#10AEF8", strokeWidth=8, clip=True).encode(x=xq, y=yv))
p3.append(alt.Chart(df(h=ARROW_H, d=ARROW_DIR, v=[ARROW_LEVEL] * len(ARROW_H))).mark_point(
    shape="M-0.13,0.44L0,0L0.13,0.44", size=SIZE, filled=False, stroke="#4A7590", strokeWidth=4.5, opacity=1).encode(
    x=xq, y=yv, angle=alt.Angle("d:Q", scale=None)))
p3.append(nowline(H3))
p3 += axes(YS3, [0, 10, 20, 30, 40, 50], [0, 10, 20, 30, 40, 50], flush=True)
p3.append(xaxis())
oy3 = 975
t3 = lambda *a, **k: text(*a, oy=oy3, **k)
p3 += [
    t3("(km/h)", 62, 1118, angle=270, align="center"),
    t3("Rafale de vânt", 1986, 1192, angle=270, align="center", color="#4A7A9B"),
    t3("Viteza vântului", 2027, 1192, angle=270, align="center", color="#10AEF5"),
    t3("Previziuni actualizate: 2023-05-14 22:47", 21, 1342, color="#AAAAAA"),
    alt.Chart(df(a=[0])).mark_rule(opacity=0).encode(x=alt.value(2040 - 143), x2=alt.value(2039 - 143), y=alt.value(1348 - oy3)),
]
panel3 = alt.layer(*p3).resolve_axis(x="independent", y="independent").properties(width=W, height=H3)

chart = alt.vconcat(panel1, panel2, panel3, spacing=107, bounds="flush").properties(
    background=BG, padding={"left": 0, "top": -3, "right": 0, "bottom": 0}
).configure_view(stroke=None)
chart.save("out.html", embed_options={"renderer": "svg", "actions": False})
